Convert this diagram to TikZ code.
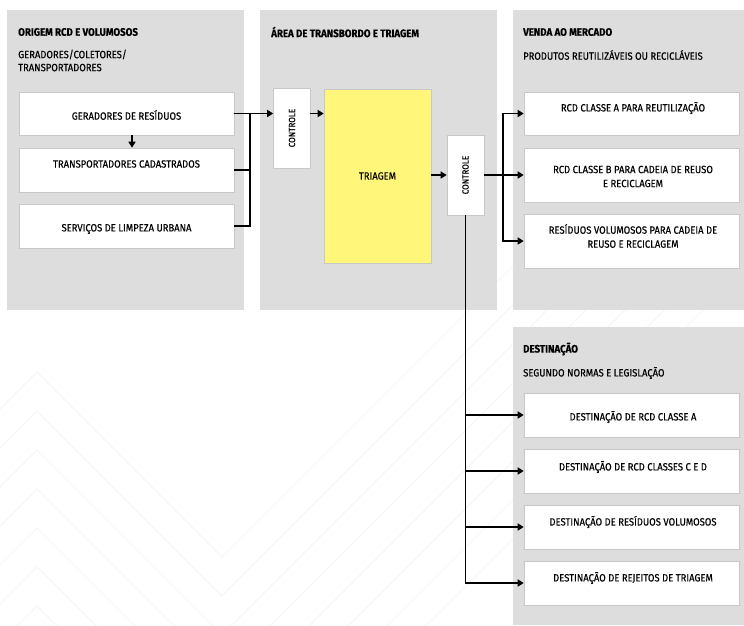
\documentclass[tikz,border=0pt]{standalone}
\usepackage{fontspec}
\setmainfont{Fira Sans}[FakeStretch=0.9,FakeBold=0.4]
\usetikzlibrary{arrows.meta}
\definecolor{panelgray}{RGB}{221,221,221}
\definecolor{boxline}{RGB}{200,200,200}
\definecolor{triyellow}{RGB}{255,246,122}
\definecolor{zigcol}{RGB}{245,248,249}
\begin{document}
\begin{tikzpicture}[x=1pt,y=-1pt,
 wbox/.style={draw=boxline,fill=white,line width=0.6pt,inner sep=0pt,minimum width=215pt},
 ctrl/.style={draw=boxline,fill=white,line width=0.6pt,inner sep=0pt,minimum width=37pt,minimum height=80pt,font=\fontsize{9}{11}\selectfont},
 txt/.style={font=\fontsize{10.5}{14}\selectfont,align=center,inner sep=0pt},
 ttl/.style={font=\fontsize{10.8}{12}\selectfont\bfseries,anchor=west,inner sep=0pt},
 sub/.style={font=\fontsize{10.5}{13}\selectfont,anchor=west,inner sep=0pt,align=left},
 conn/.style={line width=1.6pt,black,line cap=rect},
 arr/.style={conn,-{Triangle[length=6pt,width=7pt]}},
 zigline/.style={draw=zigcol,line width=1.3pt}
]
\useasboundingbox (0,0) rectangle (744,625);
% background chevrons
\begin{scope}
\clip (0,0) rectangle (744,625);
\foreach \k in {0,...,7}{
  \draw[zigline] (-23,{432+39*\k}) -- (37,{372+39*\k}) -- (222,{557+39*\k}) -- (722,{57+39*\k});
}
\end{scope}
% panels
\fill[panelgray] (7,10) rectangle (244,310);
\fill[panelgray] (260,10) rectangle (497,310);
\fill[panelgray] (513,10) rectangle (744,310);
\fill[panelgray] (513,327) rectangle (744,625);
% titles
\node[ttl] (t1) at (18,32) {ORIGEM RCD E VOLUMOSOS};
\node[sub] (s1) at (18,60.5) {GERADORES/COLETORES/\\TRANSPORTADORES};
\node[ttl] (t2) at (271,32) {ÁREA DE TRANSBORDO E TRIAGEM};
\node[ttl] (t3) at (523,32) {VENDA AO MERCADO};
\node[sub] (s3) at (523,55) {PRODUTOS REUTILIZÁVEIS OU RECICLÁVEIS};
\node[ttl] (t4) at (523,349) {DESTINAÇÃO};
\node[sub] (s4) at (523,373) {SEGUNDO NORMAS E LEGISLAÇÃO};
% left boxes
\node[wbox,minimum height=43pt] (g1) at (126.5,113.5) {};
\node[wbox,minimum height=44pt] (g2) at (126.5,170) {};
\node[wbox,minimum height=44pt] (g3) at (126.5,226) {};
\node[txt] (g1t) at (126.5,115) {GERADORES DE RESÍDUOS};
\node[txt] (g2t) at (126.5,164) {TRANSPORTADORES CADASTRADOS};
\node[txt] (g3t) at (126.5,229) {SERVIÇOS DE LIMPEZA URBANA};
% middle
\node[ctrl] (c1) at (292,128) {\rotatebox{90}{CONTROLE}};
\node[draw=boxline,fill=triyellow,line width=0.6pt,minimum width=107pt,minimum height=174pt,inner sep=0pt,font=\fontsize{10.5}{12}\selectfont] (tri) at (377.5,176) {TRIAGEM};
\node[ctrl] (c2) at (465.5,175) {\rotatebox{90}{CONTROLE}};
% right boxes
\node[wbox,minimum height=43pt] (v1) at (631.5,113.5) {};
\node[wbox,minimum height=54pt] (v2) at (631.5,175) {};
\node[wbox,minimum height=54pt] (v3) at (631.5,241) {};
\node[txt] (v1t) at (633,108) {RCD CLASSE A PARA REUTILIZAÇÃO};
\node[txt] (v2t) at (633,176.5) {RCD CLASSE B PARA CADEIA DE REUSO\\E RECICLAGEM};
\node[txt] (v3t) at (633,236) {RESÍDUOS VOLUMOSOS PARA CADEIA DE\\REUSO E RECICLAGEM};
% destination boxes
\node[wbox,minimum height=44pt] (d1) at (631.5,415) {};
\node[wbox,minimum height=44pt] (d2) at (631.5,471) {};
\node[wbox,minimum height=44pt] (d3) at (631.5,527) {};
\node[wbox,minimum height=44pt] (d4) at (631.5,583) {};
\node[txt] (d1t) at (633,417) {DESTINAÇÃO DE RCD CLASSE A};
\node[txt] (d2t) at (633,467) {DESTINAÇÃO DE RCD CLASSES C E D};
\node[txt] (d3t) at (633,522) {DESTINAÇÃO DE RESÍDUOS VOLUMOSOS};
\node[txt] (d4t) at (633,578) {DESTINAÇÃO DE REJEITOS DE TRIAGEM};
% connectors
\coordinate (busL) at (250,0);
\coordinate (busR) at (503,0);
\draw[arr] ([xshift=5.5pt]g1.south) -- ([xshift=5.5pt]g2.north);
\draw[conn] (g3.east) -- (g3.east -| busL) -- (g1.east -| busL);
\draw[conn] (g2.east) -- (g2.east -| busL);
\draw[arr] (g1.east) -- (c1.west |- g1.east);
\draw[arr] (c1.east |- g1.east) -- (tri.west |- g1.east);
\draw[arr] (tri.east |- c2.west) -- (c2.west);
\draw[conn] (c2.east) -- (c2.east -| busR);
\draw[conn] (busR |- v1.west) -- (busR |- v3.west);
\draw[arr] (busR |- v1.west) -- (v1.west);
\draw[arr] (busR |- v2.west) -- (v2.west);
\draw[arr] (busR |- v3.west) -- (v3.west);
\draw[conn] (c2.south) -- (c2.south |- d4.west);
\draw[arr] (c2.south |- d1.west) -- (d1.west);
\draw[arr] (c2.south |- d2.west) -- (d2.west);
\draw[arr] (c2.south |- d3.west) -- (d3.west);
\draw[arr] (c2.south |- d4.west) -- (d4.west);
\end{tikzpicture}
\end{document}
